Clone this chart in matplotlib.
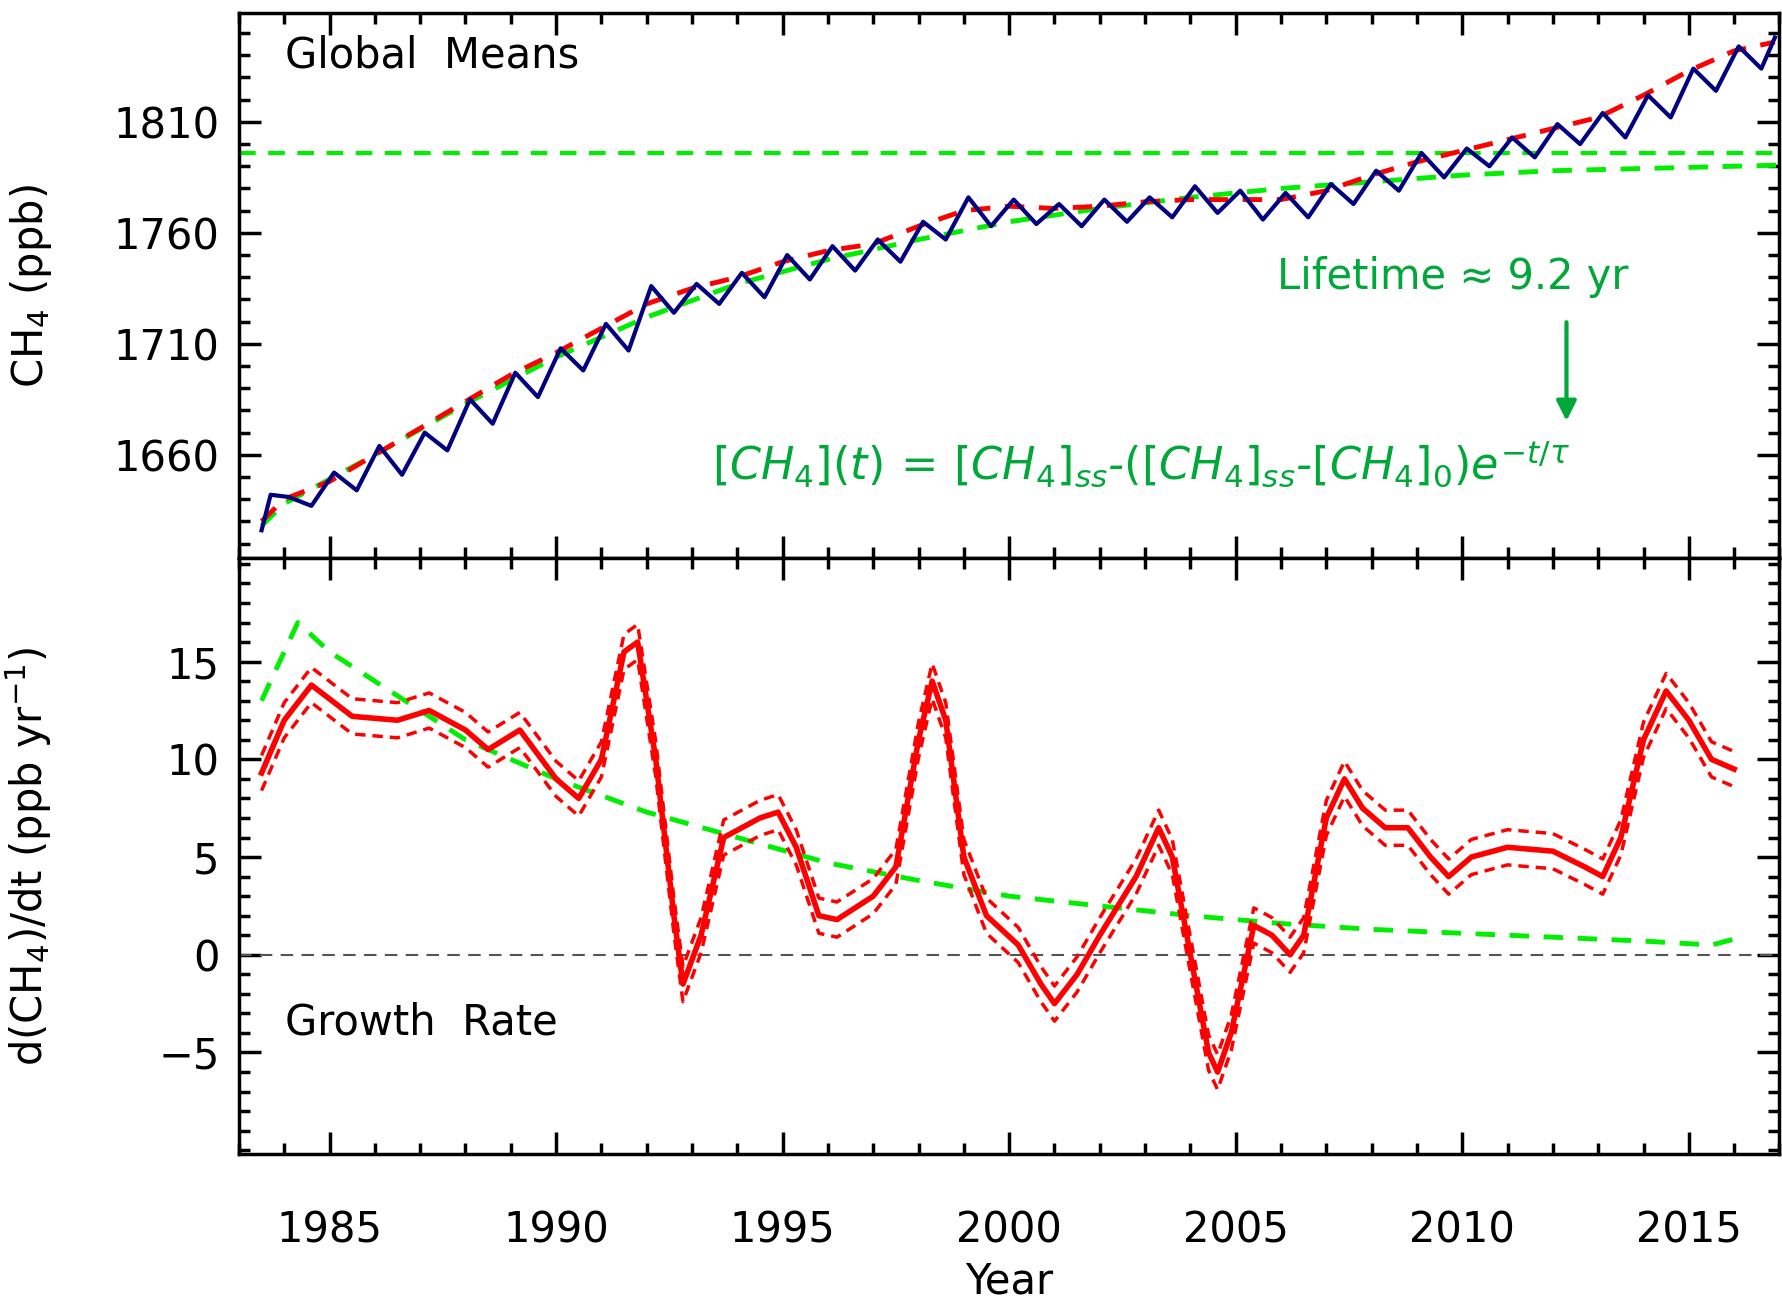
import numpy as np
import matplotlib.pyplot as plt
from matplotlib.ticker import MultipleLocator, FixedLocator

plt.rcParams['font.family'] = ['DejaVu Sans']
plt.rcParams['mathtext.fontset'] = 'dejavusans'

# global means: seasonal highs/lows (ppb)
blue_t = [1983.5, 1983.7, 1984.1, 1984.6, 1985.1, 1985.6, 1986.1, 1986.6, 1987.1, 1987.6,
          1988.1, 1988.6, 1989.1, 1989.6, 1990.1, 1990.6, 1991.1, 1991.6, 1992.1, 1992.6,
          1993.1, 1993.6, 1994.1, 1994.6, 1995.1, 1995.6, 1996.1, 1996.6, 1997.1, 1997.6,
          1998.1, 1998.6, 1999.1, 1999.6, 2000.1, 2000.6, 2001.1, 2001.6, 2002.1, 2002.6,
          2003.1, 2003.6, 2004.1, 2004.6, 2005.1, 2005.6, 2006.1, 2006.6, 2007.1, 2007.6,
          2008.1, 2008.6, 2009.1, 2009.6, 2010.1, 2010.6, 2011.1, 2011.6, 2012.1, 2012.6,
          2013.1, 2013.6, 2014.1, 2014.6, 2015.1, 2015.6, 2016.1, 2016.6, 2016.9]
blue_v = [1626, 1642, 1641, 1637, 1652, 1644, 1664, 1651, 1670, 1662, 1685, 1674, 1697, 1686,
          1708, 1698, 1719, 1707, 1736, 1724, 1737, 1728, 1742, 1731, 1750, 1739, 1754, 1743,
          1757, 1747, 1765, 1757, 1776, 1763, 1775, 1764, 1773, 1763, 1775, 1765, 1776, 1767,
          1781, 1769, 1779, 1766, 1778, 1767, 1782, 1773, 1788, 1779, 1796, 1785, 1798, 1790,
          1803, 1794, 1809, 1800, 1814, 1803, 1822, 1812, 1834, 1824, 1844, 1834, 1848]

trend_t = [1983.5, 1984, 1985, 1986, 1987, 1988, 1989, 1990, 1991, 1992, 1993, 1994, 1995,
           1996, 1997, 1998, 1999, 2000, 2001, 2002, 2003, 2004, 2005, 2006, 2007, 2008,
           2009, 2010, 2011, 2012, 2013, 2014, 2015, 2016, 2016.9]
trend_v = [1630, 1640, 1648, 1660, 1672, 1684, 1696, 1706, 1717, 1728, 1735, 1740, 1747,
           1752, 1755, 1763, 1770, 1772, 1771, 1772, 1774, 1775, 1775, 1775, 1779, 1786,
           1792, 1797, 1802, 1807, 1812, 1822, 1833, 1842, 1846]

fit_t = [1983.5, 1984, 1986, 1988, 1990, 1992, 1994, 1996, 1998, 2000, 2002, 2004, 2006,
         2008, 2010, 2012, 2014, 2016, 2017]
fit_v = [1628, 1638, 1660, 1683, 1704, 1722, 1737, 1748, 1757, 1765, 1771, 1776, 1780,
         1783, 1786, 1788, 1789, 1790, 1790.5]
steady_state = 1796
top_ticks = [1660, 1710, 1760, 1810]

# growth rate (ppb/yr)
gr_t = [1983.5, 1984, 1984.6, 1985.5, 1986.5, 1987.2, 1988, 1988.5, 1989.2, 1990, 1990.5,
        1991, 1991.5, 1991.8, 1992.2, 1992.6, 1992.8, 1993.2, 1993.7, 1994.5, 1994.9, 1995.3,
        1995.8, 1996.2, 1997, 1997.5, 1998, 1998.3, 1998.6, 1999, 1999.5, 2000.2, 2000.7,
        2001, 2001.5, 2002, 2002.8, 2003.3, 2003.6, 2004, 2004.4, 2004.6, 2004.9, 2005.4,
        2005.8, 2006.2, 2006.5, 2007, 2007.4, 2007.8, 2008.3, 2008.8, 2009.3, 2009.7, 2010.2,
        2011, 2012, 2012.7, 2013.1, 2013.5, 2014, 2014.5, 2015, 2015.5, 2016]
gr_v = [9.3, 12, 13.8, 12.2, 12, 12.5, 11.5, 10.5, 11.5, 9, 8, 10, 15.5, 16, 10, 2, -1.5,
        1, 6, 7, 7.3, 5.5, 2, 1.8, 3, 4.5, 11, 14, 12, 5, 2, 0.5, -1.5, -2.5, -1, 1, 4, 6.5,
        5, 0, -5, -6, -4, 1.5, 1, 0, 1, 7, 9, 7.5, 6.5, 6.5, 5, 4, 5, 5.5, 5.3, 4.5, 4, 6,
        11, 13.5, 12, 10, 9.5]
gr_err = 0.9

fitgr_t = [1983.5, 1984.3, 1985, 1986, 1988, 1990, 1992, 1994, 1996, 1998, 2000, 2002,
           2004, 2006, 2008, 2010, 2012, 2014, 2015.5, 2016]
fitgr_v = [13, 17, 15.5, 14, 11, 9, 7.3, 6, 4.7, 3.8, 3, 2.5, 2, 1.6, 1.3, 1.1, 0.9, 0.7,
           0.5, 0.8]
bottom_ticks = [-5, 0, 5, 10, 15]

fig = plt.figure(figsize=(17.83, 13.13), dpi=100)
ax1 = fig.add_axes([0.134, 0.575, 0.864, 0.415])
ax2 = fig.add_axes([0.134, 0.121, 0.864, 0.454])
green = '#00ee00'
dgreen = '#00a83a'

ax1.plot(fit_t, fit_v, '--', color=green, lw=3.5, dashes=(4, 3))
ax1.axhline(steady_state, color=green, ls='--', lw=3, dashes=(4, 3))
ax1.plot(trend_t, trend_v, '--', color='red', lw=3.5, dashes=(4, 3))
ax1.plot(blue_t, blue_v, color='#000080', lw=3)
ax1.set_ylim(1613.5, 1859)
ax1.set_ylabel('CH$_4$ (ppb)', fontsize=30)
ax1.text(0.03, 0.9, 'Global  Means', transform=ax1.transAxes, fontsize=30)
ax1.text(2009.8, 1740, 'Lifetime \u2248 9.2 yr', color=dgreen, fontsize=30, ha='center', va='center')
ax1.annotate('', xy=(2012.3, 1674), xytext=(2012.3, 1721),
             arrowprops=dict(arrowstyle='-|>', color=dgreen, lw=3, mutation_scale=30))
ax1.text(2002.9, 1656,
         r'$[CH_4](t)\,=\,[CH_4]_{ss}$-$([CH_4]_{ss}$-$[CH_4]_0)e^{-t/\tau}$',
         color=dgreen, fontsize=32, ha='center', va='center', style='italic')
ax1.yaxis.set_major_locator(FixedLocator(top_ticks))
ax1.yaxis.set_minor_locator(MultipleLocator(10))
ax1.tick_params(labelbottom=False)

ax2.axhline(0, color='#555555', ls='--', lw=1.5, dashes=(6, 4))
ax2.plot(fitgr_t, fitgr_v, '--', color=green, lw=3.5, dashes=(4, 3))
ax2.plot(gr_t, np.array(gr_v) + gr_err, '--', color='red', lw=2.5, dashes=(3, 2))
ax2.plot(gr_t, np.array(gr_v) - gr_err, '--', color='red', lw=2.5, dashes=(3, 2))
ax2.plot(gr_t, gr_v, color='red', lw=4)
ax2.set_ylim(-10.2, 20.3)
ax2.set_ylabel('d(CH$_4$)/dt (ppb yr$^{-1}$)', fontsize=30)
ax2.set_xlabel('Year', fontsize=30, labelpad=6)
ax2.text(0.03, 0.2, 'Growth  Rate', transform=ax2.transAxes, fontsize=30)
ax2.yaxis.set_major_locator(FixedLocator(bottom_ticks))
ax2.yaxis.set_minor_locator(MultipleLocator(1))

for ax in (ax1, ax2):
    ax.set_xlim(1983, 2017)
    ax.xaxis.set_major_locator(MultipleLocator(5))
    ax.xaxis.set_minor_locator(MultipleLocator(1))
    ax.tick_params(which='both', direction='in', top=True, right=True, labelsize=30, width=2.5)
    ax.tick_params(which='major', length=16, pad=14)
    ax.tick_params(which='minor', length=8)
    for s in ax.spines.values():
        s.set_linewidth(2.5)
ax2.tick_params(axis='x', which='major', pad=40)
ax1.yaxis.set_label_coords(-0.12, 0.5)
ax2.yaxis.set_label_coords(-0.12, 0.5)

fig.savefig('out.png', dpi=100)
